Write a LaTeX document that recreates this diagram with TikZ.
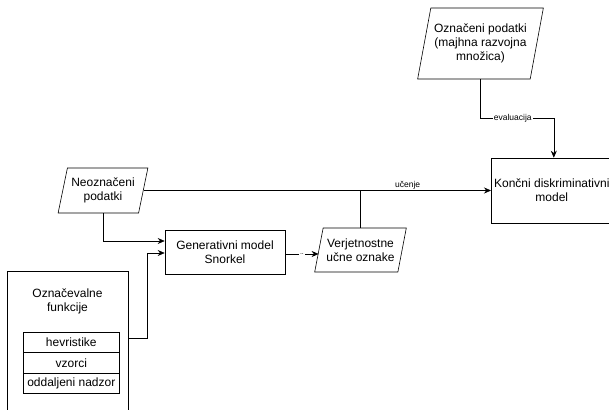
\documentclass[tikz,border=0pt]{standalone}
\usepackage{fontspec}
\setmainfont{Liberation Sans}
\usetikzlibrary{shapes.geometric,arrows.meta}
\tikzset{
  box/.style={draw, line width=0.6pt, align=center, font=\fontsize{12}{14}\selectfont},
  para/.style={box, trapezium, trapezium stretches=true, trapezium left angle=74, trapezium right angle=106},
  cell/.style={draw, line width=0.6pt, minimum width=96pt, minimum height=20.3pt, inner sep=0pt, font=\fontsize{12}{14}\selectfont},
  arr/.style={-{Stealth[length=7pt,width=6pt]}, line width=0.6pt},
  lbl/.style={fill=white, inner sep=1pt, font=\fontsize{8.5}{10}\selectfont},
}
\begin{document}
\begin{tikzpicture}[x=1pt,y=-1pt]
\useasboundingbox (0,0) rectangle (609,409);
% podatki
\node[para, minimum width=125pt, minimum height=71pt] (ozn) at (480.5,43.5) {Označeni podatki\\(majhna razvojna\\množica)};
\node[para, minimum width=90pt, minimum height=45pt] (neo) at (103,190.5) {Neoznačeni\\podatki};
\node[para, minimum width=86pt, minimum height=44pt] (verj) at (360.5,250) {Verjetnostne\\učne oznake};
% modeli
\node[box, minimum width=120pt, minimum height=44pt] (gen) at (225,252) {Generativni model\\Snorkel};
\node[box, inner xsep=1pt, minimum width=121pt, minimum height=65pt, anchor=west] (konc) at (491,190.5) {Končni diskriminativni\\model};
% oznacevalne funkcije
\node[minimum width=121pt, minimum height=142pt, anchor=north west] (oznf) at (7,271) {};
\draw[line width=0.6pt] (oznf.south west) -- (oznf.north west) -- (oznf.north east) -- (oznf.south east);
\node[box, draw=none] (ozt) at (67.5,301) {Označevalne\\funkcije};
\foreach \i/\t in {0/hevristike,1/vzorci,2/oddaljeni nadzor}
  \node[cell, anchor=north west] (row\i) at (23,332+20.3*\i) {\t};
% povezave
\draw[arr] (ozn.south) -- ++(0,39) -| node[lbl, pos=0.22] {evaluacija} ([xshift=2pt]konc.north);
\draw[arr] (neo.east) -- node[lbl, fill=none, above, pos=0.76] {učenje} (neo.east -| konc.west);
\draw[line width=0.6pt] (verj.north) -- (verj.north |- neo.east);
\draw[arr] (neo.south) |- ([yshift=11pt]gen.west);
\draw[arr] ([yshift=-67pt]oznf.north east) -- ++(19,0) |- ([yshift=-1pt]gen.west);
\draw[arr] ([yshift=-2pt]gen.east) -- node[lbl, font=\fontsize{7}{8}\selectfont] {..} ([yshift=-2pt]gen.east -| verj.west);
\end{tikzpicture}
\end{document}
